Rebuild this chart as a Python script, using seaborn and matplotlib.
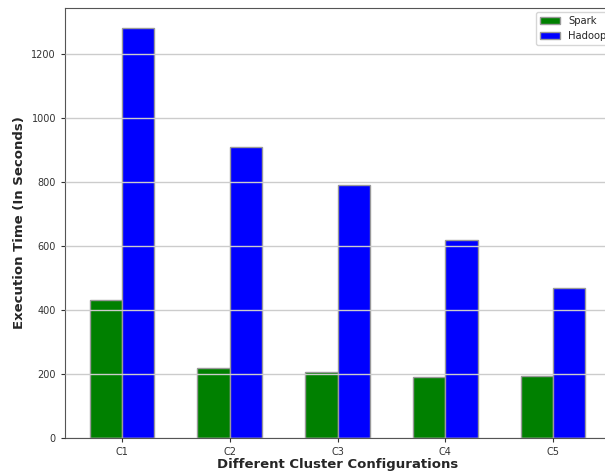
import pandas as pd
import matplotlib.pyplot as plt
import seaborn as sns

configs = ["C1", "C2", "C3", "C4", "C5"]
spark = [430, 220, 205, 190, 195]
hadoop = [1280, 910, 790, 620, 470]

df = pd.DataFrame({"config": configs, "Spark": spark, "Hadoop": hadoop})
df_long = df.melt(id_vars="config", var_name="framework", value_name="time")

sns.set_style("ticks")
plt.rcParams["font.family"] = ["DejaVu Sans"]

fig = plt.figure(figsize=(6.05, 4.75), dpi=100)
# axes runs slightly past the right edge, like the cropped original
ax = fig.add_axes([65 / 605, 37 / 475, 545 / 605, 430 / 475])

sns.barplot(
    data=df_long,
    x="config",
    y="time",
    hue="framework",
    palette=["green", "blue"],
    saturation=1,
    width=0.6,
    edgecolor="#999999",
    linewidth=1,
    ax=ax,
)

ax.set_xlim(-0.53, 4.53)
ax.set_ylim(0, 1344)
ax.set_axisbelow(False)
ax.yaxis.grid(True, color="#cccccc", linewidth=1)
ax.tick_params(labelsize=7, colors="#333333", length=3)
ax.set_xlabel("Different Cluster Configurations", fontsize=9.5, fontweight="bold", labelpad=1)
ax.set_ylabel("Execution Time (In Seconds)", fontsize=9.5, fontweight="bold", labelpad=4)
for s in ax.spines.values():
    s.set_color("#555555")

ax.legend(title=None, loc="upper left", fontsize=7.2, frameon=True,
          bbox_to_anchor=(536 / 605, 1 - 12 / 475), bbox_transform=fig.transFigure,
          borderaxespad=0)

fig.savefig("out.png", dpi=100)
